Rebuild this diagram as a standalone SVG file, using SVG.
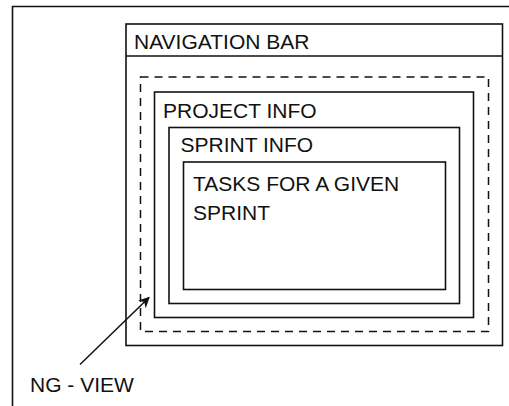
<svg xmlns="http://www.w3.org/2000/svg" width="509" height="406" viewBox="0 0 509 406">
<defs>
<style>
.box{fill:none;stroke:#111;stroke-width:1.6}
.dash{fill:none;stroke:#111;stroke-width:1.5;stroke-dasharray:8,6}
.t{font-family:"Liberation Sans",Arial,sans-serif;font-size:21px;fill:#111}
.ln{stroke:#111;stroke-width:1.5;fill:none}
</style>
<marker id="ah" viewBox="0 0 10 10" refX="9" refY="5" markerWidth="11" markerHeight="11" markerUnits="userSpaceOnUse" orient="auto">
<path d="M0,0 L10,5 L0,10 L3,5 Z" fill="#111"/>
</marker>
</defs>
<rect width="509" height="406" fill="#fff"/>
<g id="frame"><path class="box" d="M12.5,406 V6.5 H509"/></g>
<g id="navbar">
<rect class="box" x="126" y="24" width="376.5" height="321.5"/>
<line class="ln" x1="126" y1="56" x2="502.5" y2="56"/>
<text class="t" x="134" y="48.5">NAVIGATION BAR</text>
</g>
<g id="ngview">
<rect class="dash" x="140.5" y="77" width="348" height="254.5"/>
</g>
<g id="project">
<rect class="box" x="154.5" y="92" width="319" height="225.5"/>
<text class="t" x="163" y="117.5">PROJECT INFO</text>
</g>
<g id="sprint">
<rect class="box" x="169" y="127.5" width="290.5" height="176"/>
<text class="t" x="180.5" y="152">SPRINT INFO</text>
</g>
<g id="tasks">
<rect class="box" x="183.5" y="162" width="262" height="127.5"/>
<text class="t" x="193" y="191">TASKS FOR A GIVEN</text>
<text class="t" x="193" y="220">SPRINT</text>
</g>
<g id="connectors">
<line class="ln" x1="80" y1="364.5" x2="149" y2="297.5" marker-end="url(#ah)"/>
</g>
<g id="label"><text class="t" x="30" y="392">NG - VIEW</text></g>
</svg>
